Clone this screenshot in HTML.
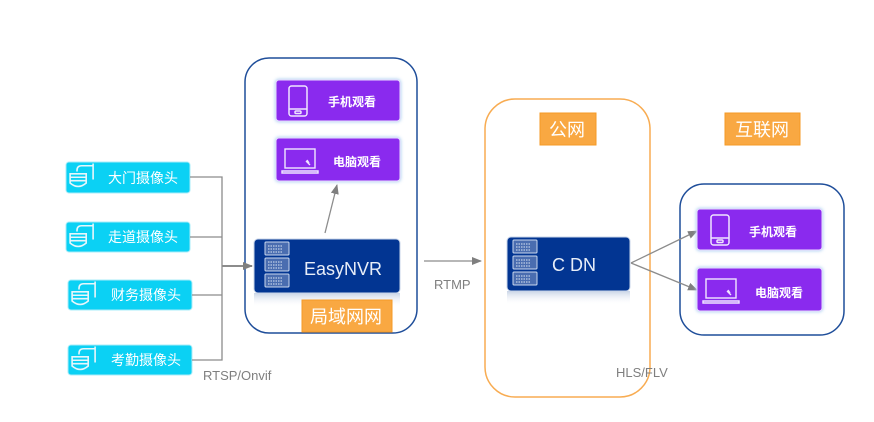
<!DOCTYPE html>
<html><head><meta charset="utf-8">
<style>
html,body{margin:0;padding:0;background:#fff;width:874px;height:422px;overflow:hidden}
svg{display:block}
text{font-family:"Liberation Sans","Noto Sans CJK SC",sans-serif}
</style></head><body>
<svg width="874" height="422" viewBox="0 0 874 422" xmlns="http://www.w3.org/2000/svg">
<defs>
<marker id="ar" markerWidth="10" markerHeight="8" refX="9" refY="4" orient="auto" markerUnits="userSpaceOnUse">
<path d="M0,0 L10,4 L0,8 Z" fill="#7f7f7f"/></marker>
<g id="cam" fill="none" stroke="#e8f6fb" stroke-width="1.4">
<path d="M14,3 L14,17 M14,5 L4,5 Q0,5 0,9 L0,10"/>
<path d="M-6,12 L8,12 L8,20 Q1,26 -6,20 Z"/>
<path d="M-6,15 L8,15 M-6,18 L8,18"/>
</g>
<g id="srv" stroke="#c9d8ee" stroke-width="1" fill="#4a6db0">
<rect x="0" y="0" width="24" height="13" rx="1"/>
<rect x="0" y="16" width="24" height="13" rx="1"/>
<rect x="0" y="32" width="24" height="13" rx="1"/>
<path d="M3,4 H18 M3,7 H18 M3,10 H18 M3,20 H18 M3,23 H18 M3,26 H18 M3,36 H18 M3,39 H18 M3,42 H18" stroke="#dfe8f5" stroke-dasharray="1.5 1"/>
</g>
<g id="phone" fill="none" stroke="#f0e6ff" stroke-width="1.5">
<rect x="0" y="0" width="18" height="30" rx="2.5"/>
<path d="M0,23 H18"/><rect x="6" y="25" width="6" height="2.5" rx="1"/>
</g>
<g id="lap" fill="none" stroke="#f0e6ff" stroke-width="1.4">
<rect x="3" y="0" width="30" height="19"/>
<path d="M0,22 H36 V24 H0 Z"/><path d="M24,12 L28,16 M25,11 L27,14"/>
</g>
<filter id="glow" x="-10%" y="-20%" width="120%" height="140%"><feGaussianBlur stdDeviation="1.5"/></filter>
<linearGradient id="refl" x1="0" y1="0" x2="0" y2="1"><stop offset="0" stop-color="#c9d4e6"/><stop offset="1" stop-color="#fff" stop-opacity="0"/></linearGradient>
</defs>

<rect x="245" y="58" width="172" height="275" rx="24" fill="#fff" stroke="#1f4e9a" stroke-width="1.5"/>
<rect x="485" y="99" width="165" height="298" rx="30" fill="none" stroke="#f8ac52" stroke-width="1.5"/>
<rect x="680" y="184" width="164" height="151" rx="24" fill="#fff" stroke="#1f4e9a" stroke-width="1.5"/>

<g font-size="14" fill="#fff">
<rect x="66" y="162" width="124" height="31" rx="3" fill="#0bd1f4" stroke="#a9ecf8"/>
<use href="#cam" transform="translate(77,160) scale(1.15)"/><text x="108" y="183" fill="#fff">大门摄像头</text>
<rect x="66" y="222" width="124" height="30" rx="3" fill="#0bd1f4" stroke="#a9ecf8"/>
<use href="#cam" transform="translate(77,220) scale(1.15)"/><text x="108" y="242" fill="#fff">走道摄像头</text>
<rect x="68" y="280" width="124" height="30" rx="3" fill="#0bd1f4" stroke="#a9ecf8"/>
<use href="#cam" transform="translate(79,278) scale(1.15)"/><text x="111" y="300" fill="#fff">财务摄像头</text>
<rect x="68" y="345" width="124" height="30" rx="3" fill="#0bd1f4" stroke="#a9ecf8"/>
<use href="#cam" transform="translate(79,343) scale(1.15)"/><text x="111" y="365" fill="#fff">考勤摄像头</text>
</g>

<g stroke="#8c8c8c" stroke-width="1.3" fill="none">
<path d="M190,177 H222 V360 H192 M190,237 H222 M192,295 H222"/>
<path d="M222,266 H252" stroke-width="2" marker-end="url(#ar)"/>
<path d="M325,233 L337,185" marker-end="url(#ar)"/>
<path d="M424,261 H481" marker-end="url(#ar)"/>
<path d="M631,263 L697,231" marker-end="url(#ar)"/>
<path d="M631,263 L697,290" marker-end="url(#ar)"/>
</g>

<rect x="275" y="79" width="126" height="43" rx="4" fill="#a9cdf0" filter="url(#glow)"/>
<rect x="276" y="80" width="124" height="41" rx="3" fill="#8a2aee" stroke="#e9dcff"/>
<use href="#phone" x="289" y="86"/>
<text x="328" y="106" font-size="12" font-weight="bold" fill="#fff">手机观看</text>
<rect x="275" y="137" width="126" height="45" rx="4" fill="#a9cdf0" filter="url(#glow)"/>
<rect x="276" y="138" width="124" height="43" rx="3" fill="#8a2aee" stroke="#e9dcff"/>
<use href="#lap" x="282" y="149"/>
<text x="333" y="166" font-size="12" font-weight="bold" fill="#fff">电脑观看</text>

<rect x="254" y="293" width="146" height="14" fill="url(#refl)"/>
<rect x="254" y="239" width="146" height="54" rx="4" fill="#023592" stroke="#c9d6ea"/>
<use href="#srv" x="265" y="242"/>
<text x="304" y="275" font-size="18" fill="#e8eef8">EasyNVR</text>
<rect x="302" y="300" width="90" height="32" fill="#f9a842" stroke="#f59a25"/>
<text x="310" y="323" font-size="18" fill="#fff">局域网网</text>

<text x="434" y="289" font-size="13" fill="#7f7f7f">RTMP</text>
<text x="203" y="380" font-size="13" fill="#7f7f7f">RTSP/Onvif</text>
<text x="616" y="377" font-size="13" fill="#7f7f7f">HLS/FLV</text>

<rect x="540" y="113" width="56" height="32" fill="#f9a842" stroke="#f59a25"/>
<text x="549" y="136" font-size="18" fill="#fff">公网</text>
<rect x="725" y="113" width="75" height="32" fill="#f9a842" stroke="#f59a25"/>
<text x="735" y="136" font-size="18" fill="#fff">互联网</text>

<rect x="507" y="291" width="123" height="14" fill="url(#refl)"/>
<rect x="507" y="237" width="123" height="54" rx="4" fill="#023592" stroke="#c9d6ea"/>
<use href="#srv" x="513" y="240"/>
<text x="552" y="271" font-size="18" fill="#e8eef8">C DN</text>

<rect x="696" y="208" width="127" height="43" rx="4" fill="#a9cdf0" filter="url(#glow)"/>
<rect x="697" y="209" width="125" height="41" rx="3" fill="#8a2aee" stroke="#e9dcff"/>
<use href="#phone" x="711" y="215"/>
<text x="749" y="236" font-size="12" font-weight="bold" fill="#fff">手机观看</text>
<rect x="696" y="267" width="127" height="45" rx="4" fill="#a9cdf0" filter="url(#glow)"/>
<rect x="697" y="268" width="125" height="43" rx="3" fill="#8a2aee" stroke="#e9dcff"/>
<use href="#lap" x="703" y="279"/>
<text x="755" y="297" font-size="12" font-weight="bold" fill="#fff">电脑观看</text>
</svg>
</body></html>
